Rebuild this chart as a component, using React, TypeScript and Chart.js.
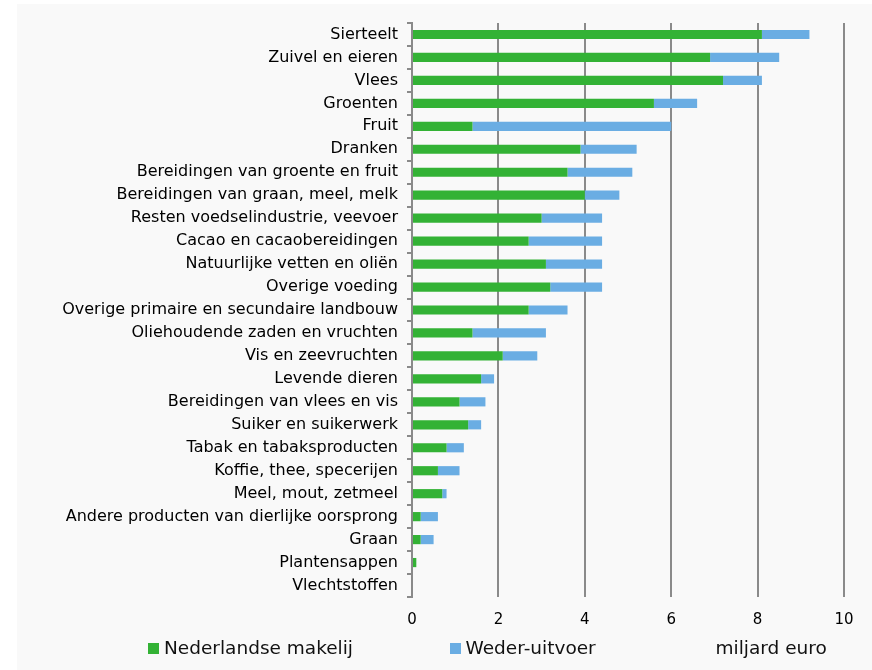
import React, { useEffect, useRef } from "react";
import { Chart, registerables } from "chart.js";

Chart.register(...registerables);

const categories: string[] = [
  "Sierteelt",
  "Zuivel en eieren",
  "Vlees",
  "Groenten",
  "Fruit",
  "Dranken",
  "Bereidingen van groente en fruit",
  "Bereidingen van graan, meel, melk",
  "Resten voedselindustrie, veevoer",
  "Cacao en cacaobereidingen",
  "Natuurlijke vetten en oliën",
  "Overige voeding",
  "Overige primaire en secundaire landbouw",
  "Oliehoudende zaden en vruchten",
  "Vis en zeevruchten",
  "Levende dieren",
  "Bereidingen van vlees en vis",
  "Suiker en suikerwerk",
  "Tabak en tabaksproducten",
  "Koffie, thee, specerijen",
  "Meel, mout, zetmeel",
  "Andere producten van dierlijke oorsprong",
  "Graan",
  "Plantensappen",
  "Vlechtstoffen",
];

const nederlandseMakelij: number[] = [
  8.1, 6.9, 7.2, 5.6, 1.4, 3.9, 3.6, 4.0, 3.0, 2.7, 3.1, 3.2, 2.7, 1.4, 2.1,
  1.6, 1.1, 1.3, 0.8, 0.6, 0.7, 0.2, 0.2, 0.1, 0,
];

const wederUitvoer: number[] = [
  1.1, 1.6, 0.9, 1.0, 4.6, 1.3, 1.5, 0.8, 1.4, 1.7, 1.3, 1.2, 0.9, 1.7, 0.8,
  0.3, 0.6, 0.3, 0.4, 0.5, 0.1, 0.4, 0.3, 0, 0,
];

const xTicks: number[] = [0, 2, 4, 6, 8, 10];

const seriesNames: string[] = ["Nederlandse makelij", "Weder-uitvoer"];
const unitLabel = "miljard euro";

const GREEN = "#33b235";
const BLUE = "#6aade3";
const FONT = "'DejaVu Sans', Verdana, sans-serif";

export default function App() {
  const ref = useRef<HTMLCanvasElement | null>(null);

  useEffect(() => {
    document.body.style.margin = "0";
    const canvas = ref.current;
    if (!canvas) return;

    const bgPlugin = {
      id: "panelBg",
      beforeDraw(chart: any) {
        const ctx = chart.ctx;
        ctx.save();
        ctx.fillStyle = "#ffffff";
        ctx.fillRect(0, 0, chart.width, chart.height);
        ctx.fillStyle = "#f9f9f9";
        ctx.fillRect(17, 4, chart.width - 17, chart.height - 4);
        ctx.restore();
      },
    };

    const legendPlugin = {
      id: "customLegend",
      afterDraw(chart: any) {
        const ctx = chart.ctx;
        ctx.save();
        ctx.font = `18.5px ${FONT}`;
        ctx.textBaseline = "middle";
        ctx.textAlign = "left";
        const y = 649;
        ctx.fillStyle = GREEN;
        ctx.fillRect(148, 643, 11, 11);
        ctx.fillStyle = "#111";
        ctx.fillText(seriesNames[0], 164, y);
        ctx.fillStyle = BLUE;
        ctx.fillRect(450, 643, 11, 11);
        ctx.fillStyle = "#111";
        ctx.fillText(seriesNames[1], 465.5, y);
        ctx.fillText(unitLabel, 715.5, y);
        ctx.restore();
      },
    };

    const chart = new Chart(canvas, {
      type: "bar",
      data: {
        labels: categories,
        datasets: [
          {
            label: seriesNames[0],
            data: nederlandseMakelij,
            backgroundColor: GREEN,
            borderWidth: 0,
            barPercentage: 0.4,
            categoryPercentage: 1,
          },
          {
            label: seriesNames[1],
            data: wederUitvoer,
            backgroundColor: BLUE,
            borderWidth: 0,
            barPercentage: 0.4,
            categoryPercentage: 1,
          },
        ],
      },
      options: {
        indexAxis: "y",
        animation: false,
        responsive: false,
        maintainAspectRatio: false,
        layout: { padding: { left: 0, right: 28, top: 23, bottom: 0 } },
        plugins: {
          legend: { display: false },
          tooltip: { enabled: false },
        },
        scales: {
          x: {
            stacked: true,
            min: 0,
            max: 10,
            afterBuildTicks(scale: any) {
              scale.ticks = xTicks.map((v) => ({ value: v }));
            },
            afterFit(scale: any) {
              scale.height = 73;
            },
            border: { display: false },
            grid: {
              color: "#8a8a8a",
              lineWidth: 2,
              drawTicks: false,
            },
            ticks: {
              color: "#000",
              font: { family: FONT, size: 15 },
              padding: 14,
            },
          },
          y: {
            stacked: true,
            afterFit(scale: any) {
              scale.width = 412;
            },
            border: { display: true, color: "#8a8a8a", width: 2 },
            grid: {
              offset: true,
              drawOnChartArea: false,
              drawTicks: true,
              tickLength: 5,
              color: "#8a8a8a",
              lineWidth: 2,
            },
            ticks: {
              color: "#000",
              font: { family: FONT, size: 16 },
              padding: 9,
              autoSkip: false,
            },
          },
        },
      },
      plugins: [bgPlugin, legendPlugin],
    });

    return () => chart.destroy();
  }, []);

  return (
    <div style={{ width: 872, height: 670, overflow: "hidden" }}>
      <canvas ref={ref} width={872} height={670} style={{ display: "block", width: 872, height: 670 }} />
    </div>
  );
}
